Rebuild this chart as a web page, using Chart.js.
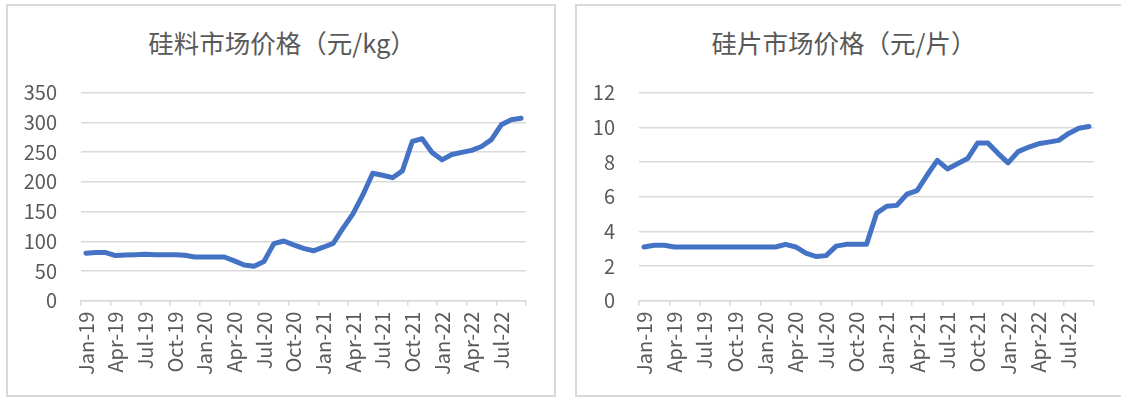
<!DOCTYPE html>
<html>
<head>
<meta charset="utf-8">
<script src="https://cdn.jsdelivr.net/npm/chart.js@4.4.0/dist/chart.umd.min.js"></script>
<style>
  html, body { margin: 0; padding: 0; background: #fff; }
  body { width: 1121px; height: 399px; position: relative; overflow: hidden; }
  .frame { position: absolute; border: 2px solid #d9d9d9; box-sizing: border-box; }
  .title {
    position: absolute; top: 27px; height: 30px; line-height: 30px; text-align: center;
    font-family: 'Noto Sans CJK SC', 'Noto Sans', sans-serif; font-size: 25.5px; color: #595959;
    white-space: nowrap;
  }
  canvas { position: absolute; top: 0; }
</style>
</head>
<body>
<div class="frame" style="left:6px; top:4px; width:550px; height:393px;"></div>
<div class="frame" style="left:575px; top:4px; width:560px; height:393px;"></div>
<div class="title" style="left:0px; width:564px;">硅料市场价格（元/kg）</div>
<div class="title" style="left:560px; width:568px;">硅片市场价格（元/片）</div>
<canvas id="siliconChart" width="560" height="399" style="left:0px"></canvas>
<canvas id="waferChart" width="561" height="399" style="left:560px"></canvas>
<script>
const months = [
  "Jan-19", "Feb-19", "Mar-19", "Apr-19", "May-19", "Jun-19", "Jul-19", "Aug-19", "Sep-19",
  "Oct-19", "Nov-19", "Dec-19", "Jan-20", "Feb-20", "Mar-20", "Apr-20", "May-20", "Jun-20",
  "Jul-20", "Aug-20", "Sep-20", "Oct-20", "Nov-20", "Dec-20", "Jan-21", "Feb-21", "Mar-21",
  "Apr-21", "May-21", "Jun-21", "Jul-21", "Aug-21", "Sep-21", "Oct-21", "Nov-21", "Dec-21",
  "Jan-22", "Feb-22", "Mar-22", "Apr-22", "May-22", "Jun-22", "Jul-22", "Aug-22", "Sep-22"
];

// 硅料 元/kg
const siliconPrice = [
  80, 81, 81, 76, 77, 77.5, 78, 77.5, 77.5,
  77.5, 76.5, 73.5, 73.5, 73.5, 73.5, 67, 60, 58,
  66, 96, 100.5, 94, 88, 84, 90, 96.5, 122,
  146, 178, 214.5, 211, 207, 218.5, 268, 272.5, 249.5,
  237, 246, 249.5, 253, 259.5, 271, 296, 304.5, 307
];

// 硅片 元/片
const waferPrice = [
  3.1, 3.2, 3.2, 3.1, 3.1, 3.1, 3.1, 3.1, 3.1,
  3.1, 3.1, 3.1, 3.1, 3.1, 3.25, 3.1, 2.75, 2.55,
  2.6, 3.15, 3.25, 3.25, 3.25, 5.05, 5.45, 5.5, 6.15,
  6.35, 7.25, 8.1, 7.6, 7.9, 8.2, 9.1, 9.1, 8.5,
  7.95, 8.6, 8.85, 9.05, 9.15, 9.25, 9.65, 9.95, 10.05
];

const siliconTicks = { max: 350, step: 50 };
const waferTicks = { max: 12, step: 2 };

const gray = "#d9d9d9";
const textGray = "#595959";
const fontFamily = "'Noto Sans CJK SC', 'Noto Sans', sans-serif";

function makeChart(canvasId, values, yTicks, yWidth, rightPad) {
  return new Chart(document.getElementById(canvasId), {
    type: "line",
    data: {
      labels: months,
      datasets: [{
        data: values,
        borderColor: "#4472c4",
        borderWidth: 5,
        borderJoinStyle: "round",
        borderCapStyle: "round",
        pointRadius: 0,
        tension: 0,
        fill: false
      }]
    },
    options: {
      responsive: false,
      animation: false,
      layout: { padding: { left: 0, right: rightPad, top: 92.7, bottom: 0 } },
      plugins: {
        legend: { display: false },
        tooltip: { enabled: false },
        title: { display: false }
      },
      scales: {
        x: {
          offset: true,
          grid: {
            offset: true,
            drawOnChartArea: false,
            drawTicks: true,
            tickLength: 5,
            lineWidth: 1.5,
            tickColor: (c) => (c.type !== "tick" || c.index % 3 === 0) ? gray : "rgba(0,0,0,0)"
          },
          border: { display: true, color: gray, width: 1.5 },
          ticks: {
            autoSkip: false,
            minRotation: 90,
            maxRotation: 90,
            padding: 6,
            color: textGray,
            font: { family: fontFamily, size: 20 },
            callback: function (val, i) { return i % 3 === 0 ? this.getLabelForValue(val) : ""; }
          },
          afterFit: (scale) => { scale.height = 98.3; }
        },
        y: {
          min: 0,
          max: yTicks.max,
          grid: { color: gray, lineWidth: 1.5, drawTicks: false },
          border: { display: false },
          ticks: {
            stepSize: yTicks.step,
            padding: 24,
            color: textGray,
            font: { family: fontFamily, size: 20 }
          },
          afterFit: (scale) => { scale.width = yWidth; }
        }
      }
    }
  });
}

makeChart("siliconChart", siliconPrice, siliconTicks, 81, 34);
makeChart("waferChart", waferPrice, waferTicks, 79, 27);
</script>
</body>
</html>
